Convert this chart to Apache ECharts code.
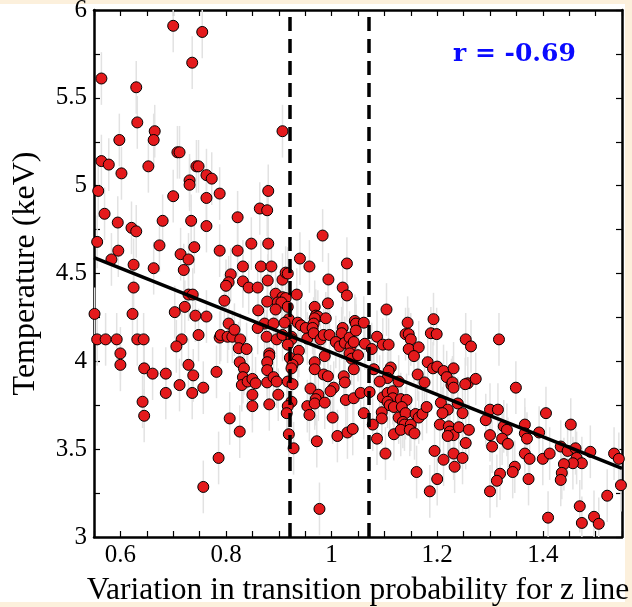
<!DOCTYPE html>
<html><head><meta charset="utf-8">
<script src="https://cdn.jsdelivr.net/npm/echarts@6/dist/echarts.min.js"></script>
<style>
html,body{margin:0;padding:0;background:#fcf0dc;overflow:hidden;}
#paper{position:absolute;left:0;top:4px;width:625px;height:598px;background:#fff;}
#chart{position:absolute;left:0;top:0;width:632px;height:607px;}
</style></head><body>
<div id="paper"></div><div id="chart"></div>
<script>
// [variation in transition probability, temperature keV]
const points = [
[0.700,5.91],[0.755,5.875],[0.736,5.70],[0.564,5.61],[0.630,5.56],[0.632,5.36],[0.665,5.31],[0.663,5.26],[0.598,5.26],[0.907,5.31],
[0.564,5.14],[0.578,5.12],[0.653,5.11],[0.708,5.19],[0.712,5.19],[0.602,5.07],[0.744,5.11],[0.748,5.11],[0.763,5.06],[0.773,5.04],
[0.731,5.03],[0.731,5.005],[0.558,4.97],[0.700,4.94],[0.763,4.93],[0.788,4.955],[0.880,4.97],[0.570,4.84],[0.864,4.87],[0.878,4.86],
[0.595,4.79],[0.680,4.80],[0.734,4.80],[0.822,4.82],[0.621,4.76],[0.630,4.74],[0.763,4.77],[0.556,4.68],[0.674,4.66],[0.740,4.65],
[0.848,4.67],[0.880,4.67],[0.596,4.63],[0.788,4.63],[0.822,4.63],[0.714,4.61],[0.729,4.58],[0.583,4.58],[0.940,4.585],[0.720,4.52],
[0.625,4.55],[0.663,4.53],[0.832,4.54],[0.866,4.54],[0.886,4.54],[0.958,4.54],[0.809,4.495],[0.879,4.46],[0.907,4.465],[0.913,4.505],
[0.917,4.50],[0.832,4.455],[0.805,4.45],[0.800,4.43],[0.625,4.42],[0.843,4.42],[0.860,4.42],[0.894,4.385],[0.934,4.38],[0.729,4.38],
[0.737,4.38],[0.907,4.365],[0.913,4.36],[0.983,4.716],[1.029,4.557],[0.994,4.466],[1.021,4.42],[1.029,4.375],[0.797,4.345],[0.878,4.34],
[0.722,4.31],[0.551,4.27],[0.623,4.27],[0.703,4.28],[0.742,4.26],[0.763,4.255],[0.556,4.125],[0.572,4.125],[0.593,4.125],[0.632,4.125],
[0.644,4.125],[0.716,4.125],[0.706,4.085],[0.748,4.15],[0.788,4.135],[0.600,4.045],[0.600,3.98],[0.645,3.96],[0.661,3.93],[0.686,3.93],
[0.729,3.98],[0.738,3.92],[0.782,3.94],[0.642,3.77],[0.645,3.69],[0.686,3.82],[0.712,3.865],[0.736,3.82],[0.757,3.85],[0.786,3.45],
[0.757,3.285],[0.807,3.675],[0.826,3.60],
[0.898,4.335],[0.905,4.335],[0.917,4.31],[0.861,4.29],[0.894,4.295],[0.968,4.31],[0.993,4.33],[0.970,4.26],[0.974,4.255],[0.968,4.245],
[0.989,4.245],[0.919,4.24],[0.936,4.22],[0.942,4.205],[0.951,4.19],[0.966,4.215],[0.964,4.19],[1.021,4.19],[1.019,4.16],
[0.805,4.215],[0.873,4.215],[0.890,4.215],[0.911,4.22],[0.860,4.19],[0.790,4.15],[0.803,4.14],[0.812,4.14],[0.816,4.18],[0.877,4.14],
[0.896,4.125],[0.907,4.15],[0.924,4.14],[0.924,4.125],[0.954,4.13],[0.966,4.16],[0.979,4.125],[0.985,4.15],[0.996,4.15],
[1.008,4.11],[1.015,4.085],[1.025,4.105],[1.034,4.135],[1.036,4.085],[1.042,4.11],
[0.827,4.125],[0.824,4.075],[0.839,4.07],[0.917,4.095],[0.938,4.06],[0.882,4.045],[0.882,4.03],[0.878,3.995],[0.826,3.995],[0.834,3.96],
[0.921,4.02],[0.936,4.01],[0.926,3.98],[0.924,3.96],[0.968,3.995],[0.968,3.955],[0.987,4.03],[1.034,4.045],[1.038,4.015],
[0.878,3.95],[0.985,3.925],[0.993,3.915],[1.023,3.915],[1.025,3.88],[1.042,3.955],
[0.832,3.91],[0.830,3.865],[0.841,3.885],[0.850,3.90],[0.856,3.875],[0.878,3.88],[0.890,3.91],[0.896,3.885],[0.917,3.885],[0.926,3.87],
[0.850,3.81],[0.899,3.81],[0.960,3.845],[1.004,3.85],[0.998,3.83],[0.975,3.81],[0.970,3.785],[0.850,3.745],[0.882,3.755],[0.924,3.77],
[0.917,3.745],[0.915,3.705],[0.954,3.745],[0.958,3.695],[0.968,3.76],[0.987,3.765],[1.027,3.78],[1.042,3.79],
[1.002,3.68],[0.919,3.585],[0.928,3.505],[0.972,3.545],[1.011,3.575],[1.030,3.595],[1.040,3.615],[0.977,3.16],
[1.104,4.295],[1.044,4.23],[1.046,4.215],[1.061,4.22],[1.046,4.175],[1.050,4.035],[1.063,4.10],[1.076,4.07],[1.086,4.14],[1.097,4.095],
[1.108,4.095],[1.144,4.22],[1.193,4.24],[1.140,4.155],[1.146,4.155],[1.150,4.125],[1.188,4.16],[1.199,4.155],[1.254,4.125],[1.264,4.085],
[1.146,4.07],[1.165,4.08],[1.156,4.03],[1.080,3.955],[1.112,3.965],[1.108,3.945],[1.106,3.905],[1.091,3.885],[1.127,3.885],[1.163,3.925],
[1.176,3.88],[1.182,3.995],[1.192,3.96],[1.200,3.97],[1.212,3.945],[1.218,3.91],[1.227,3.865],[1.229,3.88],[1.231,3.85],[1.231,3.96],
[1.258,3.875],[1.273,3.90],[1.253,3.87],[1.055,3.82],[1.072,3.825],[1.097,3.795],[1.106,3.82],[1.116,3.83],[1.116,3.79],[1.106,3.77],
[1.110,3.75],[1.118,3.74],[1.131,3.785],[1.142,3.78],[1.133,3.74],[1.061,3.705],[1.095,3.71],[1.095,3.675],[1.127,3.68],[1.140,3.705],
[1.135,3.655],[1.138,3.64],[1.150,3.64],[1.159,3.70],[1.165,3.68],[1.172,3.70],[1.180,3.74],[1.207,3.765],[1.220,3.725],[1.210,3.705],
[1.239,3.76],[1.248,3.705],[1.205,3.64],[1.222,3.63],[1.224,3.60],[1.231,3.58],[1.220,3.575],[1.241,3.625],[1.260,3.61],[1.254,3.535],
[1.118,3.585],[1.131,3.61],[1.148,3.61],[1.157,3.59],[1.078,3.64],[1.086,3.56],[1.102,3.475],[1.195,3.49],[1.212,3.44],[1.231,3.475],
[1.233,3.40],[1.248,3.45],[1.161,3.37],[1.200,3.33],[1.186,3.26],[1.300,3.26],
[1.317,4.125],[1.349,3.85],[1.300,3.725],[1.315,3.725],[1.292,3.665],[1.406,3.705],[1.366,3.64],[1.366,3.59],[1.370,3.56],[1.393,3.595],
[1.326,3.63],[1.332,3.61],[1.300,3.58],[1.304,3.515],[1.323,3.56],[1.334,3.53],[1.453,3.64],[1.434,3.515],[1.447,3.49],[1.462,3.505],
[1.464,3.45],[1.474,3.42],[1.457,3.42],[1.440,3.415],[1.490,3.485],[1.366,3.475],[1.375,3.445],[1.400,3.445],[1.413,3.475],[1.436,3.365],
[1.434,3.325],[1.535,3.475],[1.544,3.445],[1.548,3.295],[1.522,3.235],[1.347,3.40],[1.343,3.37],[1.319,3.36],[1.313,3.32],[1.373,3.33],
[1.470,3.175],[1.410,3.11],[1.474,3.08],[1.497,3.115],[1.506,3.075]
];
const errHalf = 0.15;           // typical 1-sigma temperature error (keV)
const fitX = [0.55, 1.55];
const fitY = [4.59, 3.39];
const dashedX = [0.92, 1.075];
const xLabelValues = [0.6, 0.8, 1, 1.2, 1.4];
const yLabelValues = [3, 3.5, 4, 4.5, 5, 5.5, 6];
const corrText = 'r = -0.69';
const xName = 'Variation in transition probability for z line';
const yName = 'Temperature (keV)';

const serif = '"Liberation Serif", "Times New Roman", serif';
function pick(list) {
  return function (v) {
    const m = list.find(t => Math.abs(t - v) < 1e-6);
    return m === undefined ? '' : String(m);
  };
}
const lineAx = { onZero: false, lineStyle: { color: '#000', width: 2.5 } };
const tickAx = { inside: true, length: 6, lineStyle: { color: '#000', width: 1.2 } };

const chart = echarts.init(document.getElementById('chart'), null, { renderer: 'canvas' });
chart.setOption({
  animation: false,
  backgroundColor: 'transparent',
  grid: { left: 94, right: 10, top: 10, bottom: 70, show: true, backgroundColor: '#fff', borderWidth: 0,
          containLabel: false, outerBoundsMode: 'none' },
  xAxis: [
    { type: 'value', min: 0.55, max: 1.55, interval: 0.05, position: 'bottom',
      axisLine: lineAx, axisTick: tickAx, splitLine: { show: false },
      axisLabel: { formatter: pick(xLabelValues), fontFamily: serif, fontSize: 25, color: '#000', margin: 6 },
      name: xName, nameLocation: 'middle', nameGap: 38, nameMoveOverlap: false,
      nameTextStyle: { fontFamily: serif, fontSize: 31.5, color: '#000' } },
    { type: 'value', min: 0.55, max: 1.55, interval: 0.05, position: 'top',
      axisLine: lineAx, axisTick: tickAx, splitLine: { show: false }, axisLabel: { show: false } }
  ],
  yAxis: [
    { type: 'value', min: 3, max: 6, interval: 0.25, position: 'left',
      axisLine: lineAx, axisTick: tickAx, splitLine: { show: false },
      axisLabel: { formatter: pick(yLabelValues), fontFamily: serif, fontSize: 25, color: '#000', margin: 7 },
      name: yName, nameLocation: 'middle', nameGap: 52, nameMoveOverlap: false,
      nameTextStyle: { fontFamily: serif, fontSize: 32, color: '#000' } },
    { type: 'value', min: 3, max: 6, interval: 0.25, position: 'right',
      axisLine: lineAx, axisTick: tickAx, splitLine: { show: false }, axisLabel: { show: false } }
  ],
  graphic: [
    { type: 'text', x: 453, y: 42, z: 100,
      style: { text: corrText, font: 'bold 25px "DejaVu Serif", serif', fill: '#0a0aff' } }
  ],
  series: [
    { type: 'custom', z: 1, silent: true, clip: true,
      data: points.map(p => [p[0], p[1] - errHalf, p[1] + errHalf]),
      encode: { x: 0, y: [1, 2] },
      renderItem: function (params, api) {
        const a = api.coord([api.value(0), api.value(1)]);
        const b = api.coord([api.value(0), api.value(2)]);
        return { type: 'line', shape: { x1: a[0], y1: a[1], x2: b[0], y2: b[1] },
                 style: { stroke: '#e2e2e2', lineWidth: 1.5 } };
      } },
    { type: 'line', z: 2, data: [], silent: true,
      markLine: { symbol: 'none', silent: true, label: { show: false },
        lineStyle: { color: '#000', width: 3.5, type: [14, 8] },
        data: dashedX.map(x => ({ xAxis: x })) } },
    { type: 'scatter', z: 3, data: points, symbolSize: 11,
      itemStyle: { color: '#e41a1c', borderColor: '#000', borderWidth: 1, opacity: 1 } },
    { type: 'line', z: 4, data: fitX.map((x, i) => [x, fitY[i]]), showSymbol: false, silent: true,
      lineStyle: { color: '#000', width: 3.5 } }
  ]
});
</script>
</body></html>
